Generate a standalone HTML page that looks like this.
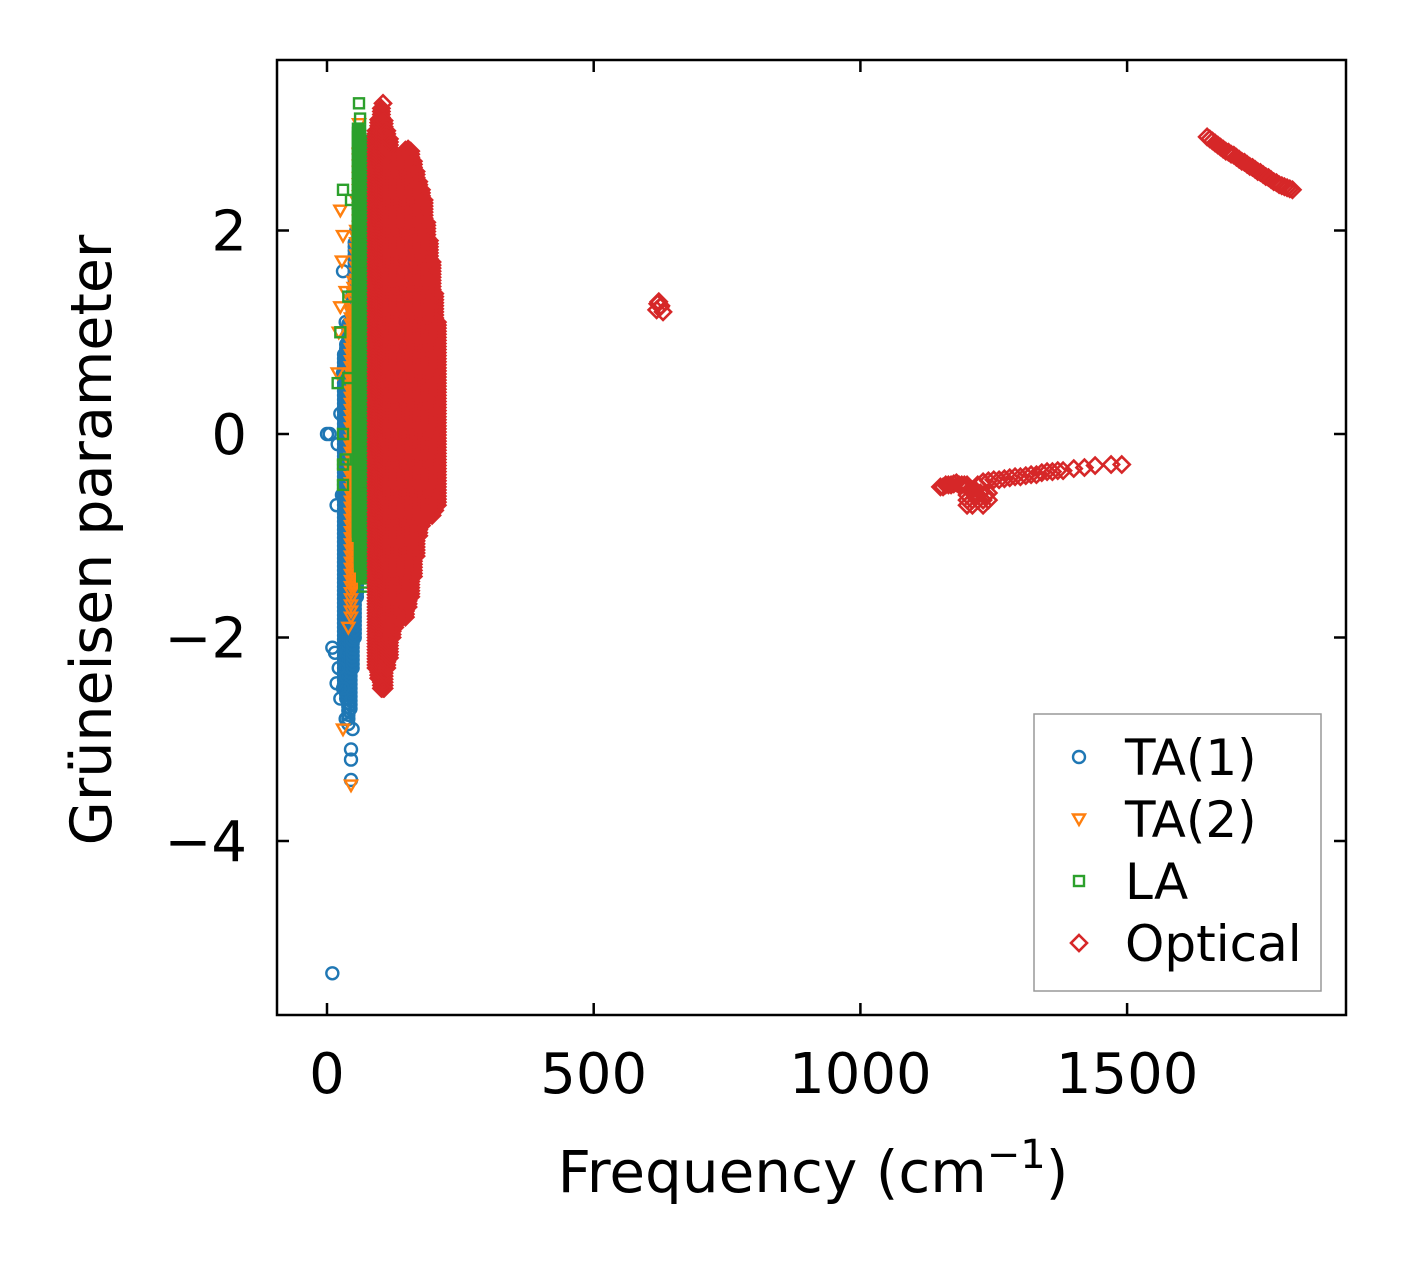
<!DOCTYPE html>
<html><head><meta charset="utf-8"><style>
body{margin:0;background:#fff}
svg{display:block;font-family:"DejaVu Sans","Liberation Sans",sans-serif}
</style></head><body>
<svg id="chart" width="1406" height="1264" viewBox="0 0 1406 1264">
<rect x="0" y="0" width="1406" height="1264" fill="#fff"/>
<g id="marks"></g>
<rect x="277" y="60" width="1069" height="955" fill="none" stroke="#000" stroke-width="2.5"/>
<g id="axes"></g>
<text x="813" y="1192" font-size="58" text-anchor="middle">Frequency (cm<tspan dy="-24" font-size="40">−1</tspan><tspan dy="24">)</tspan></text>
<text transform="translate(111,540) rotate(-90)" font-size="57" text-anchor="middle">Grüneisen parameter</text>
<g>
<rect x="1034" y="714" width="287" height="277" fill="#fff" stroke="#999" stroke-width="1.5"/>
<g id="legend-items"></g>
</g>
</svg>
<script>
// ---- data ----
const xTicks=[0,500,1000,1500];
const yTicks=[-4,-2,0,2];
const seriesNames=["TA(1)","TA(2)","LA","Optical"];
const colors=["#1f77b4","#ff7f0e","#2ca02c","#d62728"];
// scattered points
const ta1X=[10,0,5,18,10,15,18,22,25,30,35,40,45,45,45,48,30,55,55,25,30,35,20,28];
const ta1Y=[-5.3,0,0,-0.7,-2.1,-2.15,-2.45,-2.3,-2.6,-2.5,-2.8,-2.85,-3.1,-3.2,-3.4,-2.9,1.6,2.0,1.5,0.2,0.6,1.1,-0.1,-0.6];
const ta2X=[25,30,28,25,20,30,45,40,60,60,55,35,22];
const ta2Y=[2.2,1.95,1.7,1.25,0.6,-2.9,-3.45,-1.9,3.05,2.75,2.3,1.4,1.0];
const laX=[30,45,30,30,35,20,25,40,60,62,70,40,30];
const laY=[2.4,2.3,0,-0.5,-0.25,0.5,1.0,1.35,3.25,3.1,1.95,0.55,-0.3];
const optX=[105,105,140,620,625,630,618,622,626,
1150,1155,1160,1165,1170,1175,1180,1185,1190,1195,1200,1210,1220,1230,1240,1250,1260,1270,1280,1290,1300,1310,1320,1330,1340,1350,1360,1370,1380,1400,1420,1440,1470,1490,
1200,1200,1210,1220,1230,1240,1215,1235,1205,1225,1210,1230,1200,1220,1240,
1650,1655,1660,1665,1670,1675,1680,1685,1690,1695,1700,1705,1710,1715,1720,1725,1730,1735,1740,1745,1750,1755,1760,1765,1770,1775,1780,1785,1790,1795,1800,1805,1810];
const optY=[3.25,-2.5,-1.8,1.28,1.25,1.2,1.22,1.3,1.26,
-0.52,-0.52,-0.5,-0.5,-0.5,-0.49,-0.48,-0.5,-0.5,-0.5,-0.5,-0.55,-0.5,-0.47,-0.46,-0.45,-0.45,-0.44,-0.43,-0.42,-0.42,-0.41,-0.4,-0.4,-0.38,-0.37,-0.37,-0.36,-0.36,-0.34,-0.33,-0.31,-0.3,-0.3,
-0.6,-0.7,-0.7,-0.65,-0.7,-0.65,-0.6,-0.6,-0.55,-0.58,-0.65,-0.65,-0.65,-0.6,-0.58,
2.92,2.9,2.88,2.86,2.84,2.82,2.8,2.78,2.77,2.75,2.74,2.72,2.7,2.68,2.67,2.65,2.63,2.62,2.6,2.58,2.57,2.55,2.53,2.52,2.5,2.48,2.47,2.45,2.44,2.43,2.42,2.41,2.4];
// dense bands: frequency column with min / max parameter
const ta1BandX=[32,36,40,44,48,52,56,60];
const ta1BandLo=[-2.5,-2.6,-2.8,-2.7,-2.3,-2.0,-1.6,-1.0];
const ta1BandHi=[0.8,0.9,1.1,1.1,1.4,1.9,1.2,0.9];
const ta2BandX=[45,50,55,60];
const ta2BandLo=[-1.8,-1.5,-1.0,-0.6];
const ta2BandHi=[1.3,1.5,2.0,2.8];
const laBandX=[58,62,66,70,74];
const laBandLo=[-1.0,-1.3,-1.4,-1.5,-0.5];
const laBandHi=[3.0,3.0,2.9,2.7,1.0];
const optBandX=[92,97,102,107,112,117,122,127,132,137,142,147,152,157,162,167,172,177,182,187,192,197,202,207];
const optBandLo=[-2.3,-2.4,-2.5,-2.5,-2.3,-2.2,-2.0,-1.9,-1.8,-1.8,-1.8,-1.8,-1.7,-1.6,-1.4,-1.2,-1.0,-0.9,-0.85,-0.8,-0.8,-0.8,-0.75,-0.7];
const optBandHi=[3.0,3.1,3.2,3.1,3.0,2.9,2.7,2.6,2.6,2.7,2.75,2.8,2.8,2.8,2.7,2.6,2.5,2.4,2.3,2.1,1.9,1.7,1.4,1.1];

// ---- axes ----
const X0=327, XS=266.7/500, Y0=434, YS=203.5/2;
const xs=v=>X0+v*XS, ys=v=>Y0-v*YS;
const NS="http://www.w3.org/2000/svg";
const marks=document.getElementById('marks');
const axes=document.getElementById('axes');
function mk(tag,attrs,parent){const e=document.createElementNS(NS,tag);for(const k in attrs)e.setAttribute(k,attrs[k]);parent.appendChild(e);return e;}
function marker(type,cx,cy,color,parent){
  let e;
  if(type===0){e=mk('circle',{cx:cx,cy:cy,r:6,fill:'none',stroke:color,'stroke-width':2.4},parent);}
  else if(type===1){e=mk('polygon',{points:`${cx-6},${cy-4.5} ${cx+6},${cy-4.5} ${cx},${cy+6}`,fill:'none',stroke:color,'stroke-width':2.4},parent);}
  else if(type===2){e=mk('rect',{x:cx-5,y:cy-5,width:10,height:10,fill:'none',stroke:color,'stroke-width':2.4},parent);}
  else {e=mk('polygon',{points:`${cx},${cy-8} ${cx+8},${cy} ${cx},${cy+8} ${cx-8},${cy}`,fill:'none',stroke:color,'stroke-width':2.6},parent);}
  return e;
}
const allSeries=[
 [ta1X,ta1Y,ta1BandX,ta1BandLo,ta1BandHi,0.04],
 [ta2X,ta2Y,ta2BandX,ta2BandLo,ta2BandHi,0.06],
 [laX,laY,laBandX,laBandLo,laBandHi,0.04],
 [optX,optY,optBandX,optBandLo,optBandHi,0.03]
];
allSeries.forEach((s,i)=>{
  const g=mk('g',{},marks);
  
  
  const [px,py,bx,blo,bhi,step]=s;
  for(let j=0;j<bx.length;j++){
    for(let v=blo[j];v<=bhi[j]+1e-9;v+=step){
      const m=marker(i,xs(bx[j]),ys(v),colors[i],g);
      
      
    }
  }
  for(let j=0;j<px.length;j++){
    const m=marker(i,xs(px[j]),ys(py[j]),colors[i],g);
    
    
  }
});
xTicks.forEach(t=>{
  const x=xs(t);
  const a=mk('line',{x1:x,x2:x,y1:1015,y2:1003,stroke:'#000','stroke-width':2.5},axes);
  
  
  const b=mk('line',{x1:x,x2:x,y1:60,y2:72,stroke:'#000','stroke-width':2.5},axes);
  
  
  const l=mk('text',{x:x,y:1093,'font-size':56,'text-anchor':'middle'},axes);
  l.textContent=String(t);
  
  
});
yTicks.forEach(t=>{
  const y=ys(t);
  const a=mk('line',{x1:277,x2:289,y1:y,y2:y,stroke:'#000','stroke-width':2.5},axes);
  
  
  const b=mk('line',{x1:1346,x2:1334,y1:y,y2:y,stroke:'#000','stroke-width':2.5},axes);
  
  
  const l=mk('text',{x:247,y:y+20,'font-size':56,'text-anchor':'end'},axes);
  l.textContent=(t<0?'−':'')+Math.abs(t);
  
  
});
const lg=document.getElementById('legend-items');
seriesNames.forEach((n,i)=>{
  const y=757+i*62;
  const g=mk('g',{},lg);
  
  
  marker(i,1079,y,colors[i],g);
  const t=mk('text',{x:1125,y:y+18,'font-size':50},g);
  t.textContent=n;
});
</script>
</body></html>
